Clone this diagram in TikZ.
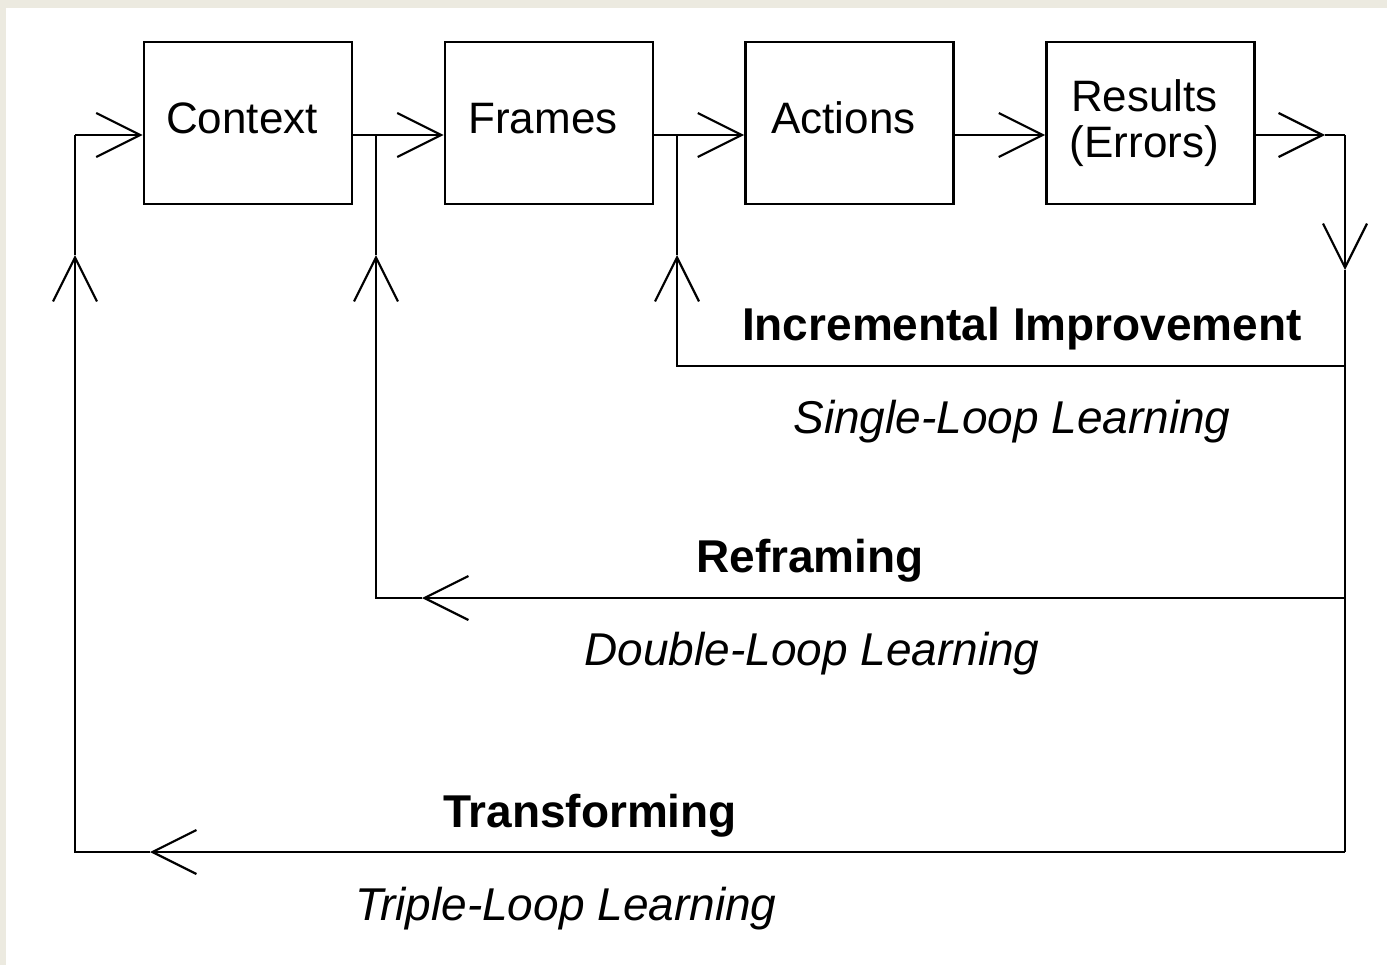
\documentclass[tikz,border=0pt]{standalone}
\usepackage{fontspec}
\setmainfont{Liberation Sans}
\usetikzlibrary{arrows.meta}
\newcommand{\padr}{\hspace*{6pt}}
\begin{document}
\begin{tikzpicture}[x=0.5pt,y=-0.5pt,
  line width=1.3pt,
  box/.style={draw,line width=1.3pt,minimum width=104pt,minimum height=81pt,inner sep=0pt,font=\fontsize{22}{23}\selectfont,align=center},
  up/.style={text depth=5pt},
  arr/.style={-{Straight Barb[length=22pt,width=22pt,line width=1.1pt]}},
  bl/.style={font=\bfseries\fontsize{23}{25}\selectfont,inner sep=0pt},
  it/.style={font=\itshape\fontsize{23}{25}\selectfont,inner sep=0pt}]
\useasboundingbox (0,0) rectangle (1387,965);
\fill[fill={rgb,255:red,236;green,234;blue,224}] (0,0) rectangle (1387,965);
\fill[white] (6,8) rectangle (1387,965);

\node[box,up] (ctx) at (248,123) {Context\padr};
\node[box,up] (frm) at (549,123) {Frames\padr};
\node[box,up] (act) at (849.5,123) {Actions\padr};
\node[box] (res) at (1150.5,123) {Results\padr\\(Errors)\padr};

\coordinate (m) at (0,135);
\coordinate (rt) at (1345,135);
\coordinate (rd) at (1345,270);
\coordinate (rs) at (1345,366);
\coordinate (rdl) at (1345,598);
\coordinate (rtl) at (1345,852);
\coordinate (sl) at (677,366);
\coordinate (su) at (677,255);
\coordinate (st) at (677,135);
\coordinate (dl) at (376,598);
\coordinate (da) at (422,598);
\coordinate (du) at (376,255);
\coordinate (dt) at (376,135);
\coordinate (tl) at (75,852);
\coordinate (ta) at (150,852);
\coordinate (tu) at (75,255);
\coordinate (tt) at (75,135);
\coordinate (ra) at (1325,135);

% main chain
\draw[arr] (tt) -- (ctx.west |- m);
\draw[arr] (ctx.east |- m) -- (frm.west |- m);
\draw[arr] (frm.east |- m) -- (act.west |- m);
\draw[arr] (act.east |- m) -- (res.west |- m);
\draw[arr] (res.east |- m) -- (ra);
\draw (ra) -- (rt);
\draw[arr] (rt) -- (rd);
\draw (rd) -- (rtl);

% single loop
\draw[arr] (rs) -- (sl) -- (su);
\draw (su) -- (st);
% double loop
\draw[arr] (rdl) -- (da);
\draw[arr] (da) -- (dl) -- (du);
\draw (du) -- (dt);
% triple loop
\draw[arr] (rtl) -- (ta);
\draw[arr] (ta) -- (tl) -- (tu);
\draw (tu) -- (tt);

\node[bl] (inc) at (1022,329) {Incremental Improvement};
\node[it] (sll) at (1012,422) {Single-Loop Learning};
\node[bl] (ref) at (810,561) {Reframing};
\node[it] (dll) at (812,654) {Double-Loop Learning};
\node[bl] (trf) at (590,816) {Transforming};
\node[it] (tll) at (566,909) {Triple-Loop Learning};
\end{tikzpicture}
\end{document}
